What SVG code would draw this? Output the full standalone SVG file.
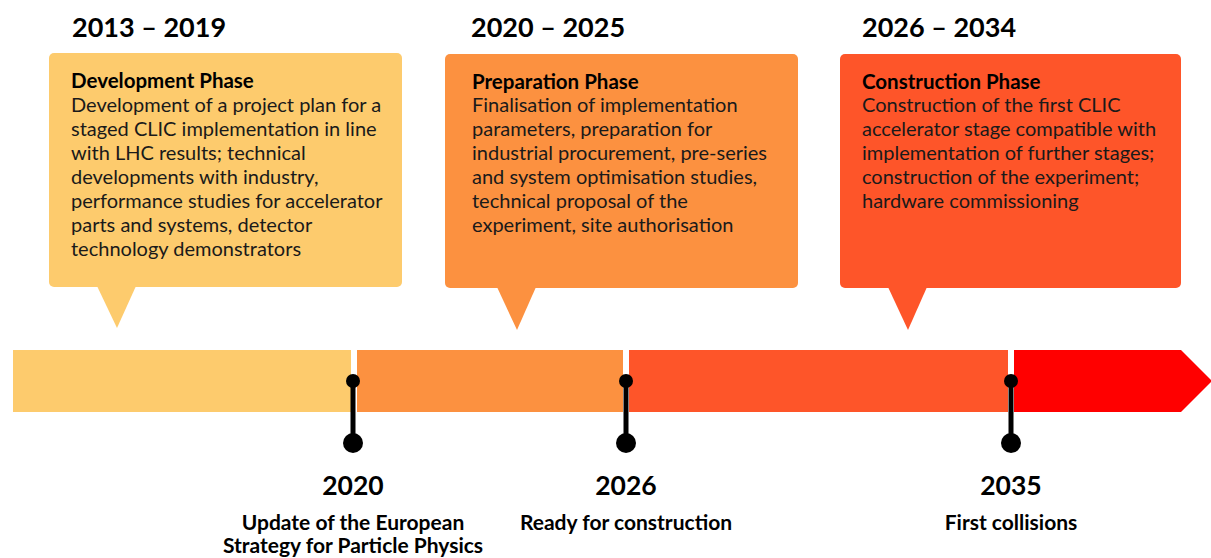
<svg xmlns="http://www.w3.org/2000/svg" width="1211" height="558" viewBox="0 0 1211 558">
<style>
.yr{font-family:Lato,"Noto Sans",sans-serif;font-weight:700;font-size:27px;fill:#000}
.ttl{font-family:Lato,"Noto Sans",sans-serif;font-weight:700;font-size:20.5px;fill:#000}
.body{font-family:Lato,"Noto Sans",sans-serif;font-size:20px;fill:#1a1a1a}
.ms{font-family:Lato,"Noto Sans",sans-serif;font-weight:700;font-size:21px;fill:#000;text-anchor:middle}
.msy{font-family:Lato,"Noto Sans",sans-serif;font-weight:700;font-size:26.5px;fill:#000;text-anchor:middle}
.stem{stroke:#000;stroke-width:5}
</style>
<rect width="1211" height="558" fill="#fff"/>
<g id="timeline">
<rect x="13" y="350" width="338" height="62" fill="#FDCB6D"/>
<rect x="357" y="350" width="266" height="62" fill="#FC9140"/>
<rect x="629" y="350" width="379" height="62" fill="#FE5529"/>
<path d="M1014 350 H1181 L1212 381 L1181 412 H1014 Z" fill="#FF0000"/>
</g>
<g id="phase1">
<text class="yr" x="72" y="37">2013 – 2019</text>
<rect x="49" y="53" width="353" height="234" rx="5" fill="#FDCB6D"/>
<path d="M97 286 L136 286 L117 328 Z" fill="#FDCB6D"/>
<text class="ttl" x="71" y="88">Development Phase</text>
<text class="body" x="71" y="112">Development of a project plan for a</text>
<text class="body" x="71" y="136">staged CLIC implementation in line</text>
<text class="body" x="71" y="160">with LHC results; technical</text>
<text class="body" x="71" y="184">developments with industry,</text>
<text class="body" x="71" y="208">performance studies for accelerator</text>
<text class="body" x="71" y="232">parts and systems, detector</text>
<text class="body" x="71" y="256">technology demonstrators</text>
</g>
<g id="phase2">
<text class="yr" x="471" y="37">2020 – 2025</text>
<rect x="445" y="54" width="353" height="234" rx="5" fill="#FC9140"/>
<path d="M497 287 L536 287 L517 330 Z" fill="#FC9140"/>
<text class="ttl" x="472" y="89">Preparation Phase</text>
<text class="body" x="472" y="112">Finalisation of implementation</text>
<text class="body" x="472" y="136">parameters, preparation for</text>
<text class="body" x="472" y="160">industrial procurement, pre-series</text>
<text class="body" x="472" y="184">and system optimisation studies,</text>
<text class="body" x="472" y="208">technical proposal of the</text>
<text class="body" x="472" y="232">experiment, site authorisation</text>
</g>
<g id="phase3">
<text class="yr" x="862" y="37">2026 – 2034</text>
<rect x="840" y="54" width="341" height="234" rx="5" fill="#FE5529"/>
<path d="M888 287 L927 287 L908 330 Z" fill="#FE5529"/>
<text class="ttl" x="862" y="89">Construction Phase</text>
<text class="body" x="862" y="112">Construction of the first CLIC</text>
<text class="body" x="862" y="136">accelerator stage compatible with</text>
<text class="body" x="862" y="160">implementation of further stages;</text>
<text class="body" x="862" y="184">construction of the experiment;</text>
<text class="body" x="862" y="208">hardware commissioning</text>
</g>
<g id="connectors">
<line class="stem" x1="353" y1="381" x2="353" y2="443"/>
<line class="stem" x1="626" y1="381" x2="626" y2="443"/>
<line class="stem" x1="1011" y1="381" x2="1011" y2="443"/>
</g>
<g id="m2020">
<circle cx="353" cy="381" r="7"/>
<circle cx="353" cy="443" r="10"/>
<text class="msy" x="353" y="495">2020</text>
<text class="ms" x="353" y="530">Update of the European</text>
<text class="ms" x="353" y="553">Strategy for Particle Physics</text>
</g>
<g id="m2026">
<circle cx="626" cy="381" r="7"/>
<circle cx="626" cy="443" r="10"/>
<text class="msy" x="626" y="495">2026</text>
<text class="ms" x="626" y="530">Ready for construction</text>
</g>
<g id="m2035">
<circle cx="1011" cy="381" r="7"/>
<circle cx="1011" cy="443" r="10"/>
<text class="msy" x="1011" y="495">2035</text>
<text class="ms" x="1011" y="530">First collisions</text>
</g>
</svg>
